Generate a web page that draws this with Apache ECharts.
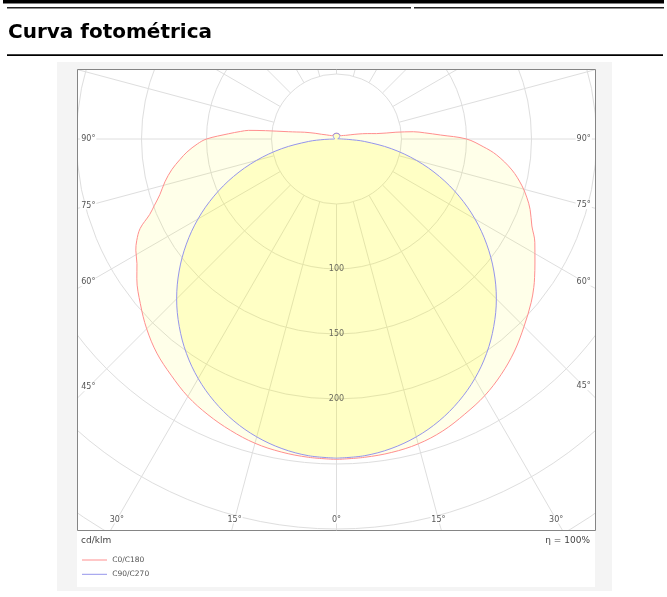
<!DOCTYPE html>
<html><head><meta charset="utf-8">
<script src="https://cdn.jsdelivr.net/npm/echarts@6/dist/echarts.min.js"></script>
<style>html,body{margin:0;padding:0;background:#fff}#c{width:667px;height:597px}</style>
</head><body><div id="c"></div>
<script>
// ---- data (cd/klm), angle measured from nadir ----
const c0Angles  = [0,5,10,15,20,25,30,35,40,45,50,55,58,61,63,65.5,68,70,72.5,76,79.5,82.5,85,88,90,92.8,94.5,95.6,96.7,98.6,100,102,105,107.6,112,117,125,135,150,165,180];
const c0Values  = [246.5,245.8,244.5,242.3,238.5,234,228.7,221.8,215,206.5,197,187.5,181,176.5,172.5,166,155,149,142.5,136,128.8,121.5,115.5,107,100,83,74,68,55,37.5,31,25,17,12,8.5,6.2,4.5,4,4.3,4.4,4.4];
const c180Angles = [0,5,10,15,20,25,30,35,40,45,50,53,55,58,62.5,66,70,73,76,80,84.3,87,90,92.2,94,95.4,96.5,97.7,100,103,107,112,117,125,135,150,165,180];
const c180Values = [246.5,245.8,244.8,242.8,239,233.5,228,221,213,204,195.5,190,186,180,172,164.5,158.5,153,146.8,137,123.8,113,100,80,68,59.4,46,31,24,17,11,7.5,6,4.5,4,4.3,4.4,4.4];
const blueAngles = [0,5,10,15,20,25,30,35,40,45,50,55,60,65,70,75,80,85,88,90,95,100,110,120,135,150,165,180];
const c90Values  = [245.5,244.6,241.8,237.2,230.8,222.6,212.8,201.3,188.2,173.9,158,141,123,104,84.3,63.8,42.8,21.5,9,1.5,1,1,1.8,2.6,3.6,4.2,4.4,4.4];
const c270Values = [245.5,244.6,241.8,237.2,230.8,222.6,212.8,201.3,188.2,173.9,158,141,123,104,84.3,63.8,42.8,21.5,9,1.5,1,1,1.8,2.6,3.6,4.2,4.4,4.4];
const radiusTickLabels = [100,150,200];
const leftAngleTicks  = [90,75,60,45,30,15];
const rightAngleTicks = [15,30,45,60,75,90];
const seriesNames = ['C0/C180','C90/C270'];

// ---- layout ----
const CX = 336.5, CY = 139, PX_PER_CD = 1.3, RMAX = 400;
const BOX = {x:77, y:69, w:518, h:461};
const FONT = 'DejaVu Sans';
const RED = '#ff8f8f', BLUE = '#9595ec', GRID = '#dedede', PANEL = '#f4f4f4', TXT = '#555';

function closedCurve(la, lv, ra, rv){
  const pts = la.map((a,i)=>[lv[i], a]);
  for (let i = ra.length-1; i >= 0; i--) pts.push([rv[i], 360 - ra[i]]);
  return pts;
}
const redData  = closedCurve(c0Angles, c0Values, c180Angles, c180Values);
const blueData = closedCurve(blueAngles, c90Values, blueAngles, c270Values);

const chart = echarts.init(document.getElementById('c'), null, {renderer:'canvas'});
const R = RMAX * PX_PER_CD;
chart.setOption({
  animation:false,
  backgroundColor:'#fff',
  polar:[
    {center:[CX,CY], radius:R},
    {center:[CX,CY], radius:[50*PX_PER_CD, R]}
  ],
  angleAxis:[
    {polarIndex:0, type:'value', min:0, max:360, interval:15, startAngle:270, clockwise:true,
     axisLine:{show:false}, axisTick:{show:false}, axisLabel:{show:false}, splitLine:{show:false}},
    {polarIndex:1, type:'value', min:0, max:360, interval:15, startAngle:270, clockwise:true,
     axisLine:{show:false}, axisTick:{show:false}, axisLabel:{show:false},
     splitLine:{show:true, lineStyle:{color:GRID, width:1}}}
  ],
  radiusAxis:[
    {polarIndex:0, type:'value', min:0, max:RMAX, interval:50,
     axisLine:{show:false}, axisTick:{show:false}, axisLabel:{show:false},
     splitLine:{show:true, lineStyle:{color:GRID, width:1}}},
    {polarIndex:1, type:'value', min:0, max:RMAX, show:false}
  ],
  series:[
    {name:seriesNames[0], type:'line', coordinateSystem:'polar', polarIndex:0, data:redData,
     symbol:'none', smooth:0.35, color:RED, lineStyle:{color:RED, width:1},
     areaStyle:{color:'rgba(255,255,0,0.12)', origin:'start'}, z:2},
    {name:seriesNames[1], type:'line', coordinateSystem:'polar', polarIndex:0, data:blueData,
     symbol:'none', smooth:0.35, color:BLUE, lineStyle:{color:BLUE, width:1},
     areaStyle:{color:'rgba(255,255,0,0.22)', origin:'start'}, z:3},
    {type:'scatter', coordinateSystem:'polar', polarIndex:0, data:radiusTickLabels.map(v=>[v,0]),
     symbolSize:1, itemStyle:{color:'rgba(0,0,0,0)'}, silent:true, z:5,
     label:{show:true, position:'inside', formatter:p=>String(p.value[0]), color:'#444', fontSize:8, fontFamily:FONT}}
  ]
});

// angle labels placed where each spoke meets the inset frame
const INSET_X = 11.3, INSET_B = 10.5;
const c = chart.convertToPixel({polarIndex:0}, [0,0]);
function edgePoint(angle){
  const p = chart.convertToPixel({polarIndex:0}, [100, angle]);
  const dx = p[0]-c[0], dy = p[1]-c[1];
  const ts = [];
  if (dx < -1e-6) ts.push((BOX.x + INSET_X - c[0]) / dx);
  if (dx > 1e-6) ts.push((BOX.x + BOX.w - INSET_X - c[0]) / dx);
  if (dy > 1e-6) ts.push((BOX.y + BOX.h - INSET_B - c[1]) / dy);
  const t = Math.min.apply(null, ts);
  return [c[0] + t*dx, c[1] + t*dy];
}
const angleLabels = [];
leftAngleTicks.forEach(a => angleLabels.push({text:a+'°', pos:edgePoint(a)}));
angleLabels.push({text:'0°', pos:edgePoint(0)});
rightAngleTicks.forEach(a => angleLabels.push({text:a+'°', pos:edgePoint(360-a)}));

const g = [];
function rect(x,y,w,h,fill,z){ g.push({type:'rect', shape:{x,y,width:w,height:h}, style:{fill}, z:z||100, silent:true}); }
// covers outside the plot frame
rect(0,0,667,62,'#fff');
rect(0,62,57,535,'#fff');
rect(612,62,55,535,'#fff');
rect(0,591,667,6,'#fff');
rect(57,62,555,BOX.y-62,PANEL);
rect(57,BOX.y,BOX.x-57,587-BOX.y,PANEL);
rect(BOX.x+BOX.w,BOX.y,612-BOX.x-BOX.w,587-BOX.y,PANEL);
rect(57,587,555,4,PANEL);
rect(BOX.x,BOX.y+BOX.h,BOX.w,587-BOX.y-BOX.h,'#fff');
// frame
g.push({type:'rect', shape:{x:BOX.x+0.5,y:BOX.y+0.5,width:BOX.w,height:BOX.h}, style:{fill:'none', stroke:'#858585', lineWidth:1}, z:101, silent:true});
// header
rect(3,0,661,3.4,'#000',110);
rect(7,7,404,1.5,'#222',110);
rect(414,7,250,1.5,'#222',110);
rect(7,54.3,656,1.7,'#000',110);
g.push({type:'text', x:8, y:33, z:110, style:{text:'Curva fotométrica', font:'bold 20px "DejaVu Sans"', fill:'#000', verticalAlign:'middle', align:'left'}});
// angle labels
angleLabels.forEach(l => g.push({type:'text', x:l.pos[0], y:l.pos[1], z:105,
  style:{text:l.text, font:'8px "DejaVu Sans"', fill:TXT, align:'center', verticalAlign:'middle', backgroundColor:'#fff', padding:[0,1]}}));
// units and efficiency
g.push({type:'text', x:81, y:540.5, z:110, style:{text:'cd/klm', font:'9px "DejaVu Sans"', fill:'#444', align:'left', verticalAlign:'middle'}});
g.push({type:'text', x:590, y:540.5, z:110, style:{text:'η = 100%', font:'9px "DejaVu Sans"', fill:'#444', align:'right', verticalAlign:'middle'}});
// legend
[[RED,560],[BLUE,574.3]].forEach((it,i)=>{
  g.push({type:'line', shape:{x1:82,y1:it[1],x2:107,y2:it[1]}, style:{stroke:it[0], lineWidth:1}, z:110});
  g.push({type:'text', x:112.3, y:it[1], z:110, style:{text:seriesNames[i], font:'7.5px "DejaVu Sans"', fill:TXT, align:'left', verticalAlign:'middle'}});
});
chart.setOption({graphic:{elements:g}});
</script></body></html>
